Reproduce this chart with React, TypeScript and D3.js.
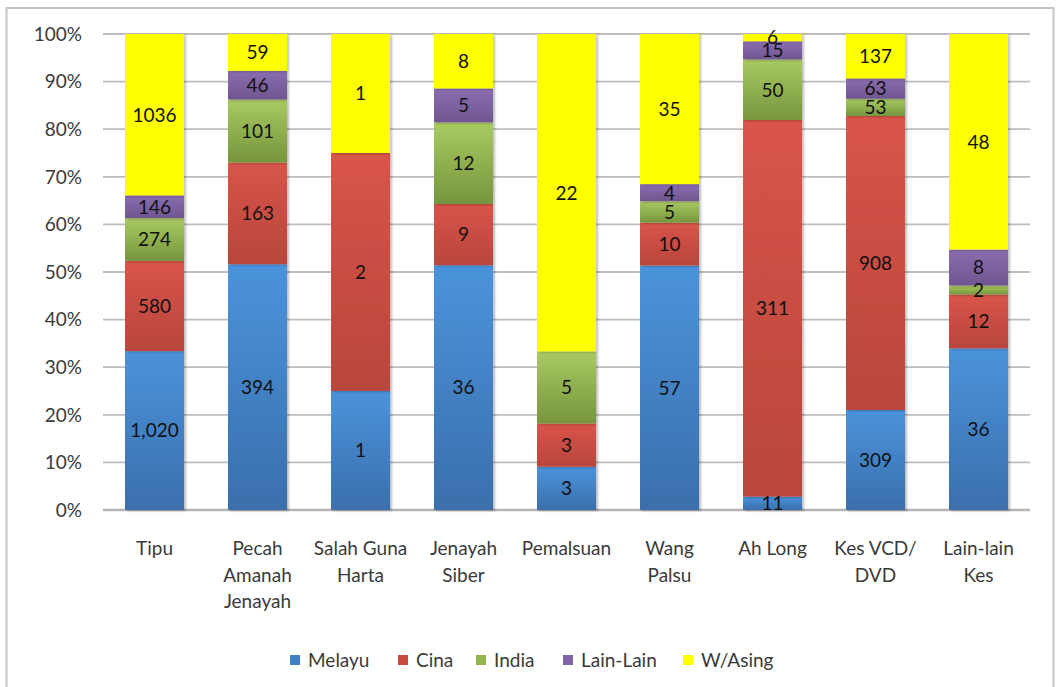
import React from "react";
import * as d3 from "d3";

const categories = [
  ["Tipu"],
  ["Pecah", "Amanah", "Jenayah"],
  ["Salah Guna", "Harta"],
  ["Jenayah", "Siber"],
  ["Pemalsuan"],
  ["Wang", "Palsu"],
  ["Ah Long"],
  ["Kes VCD/", "DVD"],
  ["Lain-lain", "Kes"],
];
const seriesNames = ["Melayu", "Cina", "India", "Lain-Lain", "W/Asing"];
const melayu = [1020, 394, 1, 36, 3, 57, 11, 309, 36];
const cina = [580, 163, 2, 9, 3, 10, 311, 908, 12];
const india = [274, 101, 0, 12, 5, 5, 50, 53, 2];
const lainLain = [146, 46, 0, 5, 0, 4, 15, 63, 8];
const wAsing = [1036, 59, 1, 8, 22, 35, 6, 137, 48];
const yTicks = [0, 0.1, 0.2, 0.3, 0.4, 0.5, 0.6, 0.7, 0.8, 0.9, 1];

const seriesValues = [melayu, cina, india, lainLain, wAsing];
const colorsTop = ["#4b93dc", "#d9544a", "#a9ca62", "#8a6db0", "#ffff00"];
const colorsBottom = ["#3a6fab", "#b8463c", "#77953d", "#6f5690", "#ffff00"];
const legendColors = ["#3f7fc4", "#cc4b40", "#93b552", "#7f63a3", "#ffff00"];

const W = 1056;
const H = 687;
const left = 103;
const right = 1030;
const top = 34;
const bottom = 510;
const FONT = "Lato, 'Open Sans', sans-serif";

export default function App() {
  const keys = categories.map((_, i) => String(i));
  const x = d3.scaleBand<string>().domain(keys).range([left, right]).paddingInner(0.427).paddingOuter(0.2135);
  const y = d3.scaleLinear().domain([0, 1]).range([bottom, top]);
  const rows = categories.map((_, i) => {
    const total = d3.sum(seriesValues, (s) => s[i]);
    const r: any = { idx: i };
    seriesNames.forEach((n, j) => (r[n] = seriesValues[j][i] / total));
    return r;
  });
  const stack = d3.stack<any>().keys(seriesNames)(rows);
  const fmtComma = d3.format(",");

  const legendX = [290, 398, 476, 563, 683];

  return (
    <svg width={W} height={H} style={{ position: "absolute", left: 0, top: 0 }} fontFamily={FONT}>
      <defs>
        {seriesNames.map((n, j) => (
          <linearGradient key={n} id={`g${j}`} x1="0" y1="0" x2="0" y2="1">
            <stop offset="0" stopColor={colorsTop[j]} />
            <stop offset="1" stopColor={colorsBottom[j]} />
          </linearGradient>
        ))}
        <filter id="sh" x="-10%" y="-10%" width="130%" height="130%">
          <feDropShadow dx="2" dy="1" stdDeviation="1" floodColor="#000" floodOpacity="0.25" />
        </filter>
      </defs>
      <rect x={0} y={0} width={W} height={H} fill="#fff" />
      <rect x={6.5} y={8} width={1047} height={700} fill="none" stroke="#c4c4c4" strokeWidth={2} />
      {yTicks.map((t) => (
        <g key={t}>
          <line x1={left} x2={right} y1={y(t)} y2={y(t)} stroke={t === 0 ? "#b5b5b5" : "#bdbdbd"} strokeWidth={t === 0 ? 2.5 : 1.8} />
          <text x={82} y={y(t)} dy="0.36em" textAnchor="end" fontSize={19} fill="#3a3a3a">
            {d3.format(".0%")(t)}
          </text>
        </g>
      ))}
      {stack.map((layer, j) => (
        <g key={layer.key}>
          {layer.map((d, i) => {
            const h = y(d[0]) - y(d[1]);
            if (h <= 0) return null;
            return (
              <rect key={i} x={x(String(i))} y={y(d[1])} width={x.bandwidth()} height={h} fill={`url(#g${j})`} filter="url(#sh)" />
            );
          })}
        </g>
      ))}
      {stack.map((layer, j) => (
        <g key={"l" + layer.key}>
          {layer.map((d, i) => {
            const v = seriesValues[j][i];
            if (!v) return null;
            const cy = (y(d[0]) + y(d[1])) / 2;
            return (
              <text key={i} x={x(String(i))! + x.bandwidth() / 2} y={cy} dy="0.36em" textAnchor="middle" fontSize={19} fill="#111">
                {j === 0 ? fmtComma(v) : String(v)}
              </text>
            );
          })}
        </g>
      ))}
      {categories.map((lines, i) => (
        <text key={i} x={x(String(i))! + x.bandwidth() / 2} y={555} textAnchor="middle" fontSize={19} fill="#3a3a3a">
          {lines.map((l, k) => (
            <tspan key={k} x={x(String(i))! + x.bandwidth() / 2} dy={k === 0 ? 0 : 26.5}>
              {l}
            </tspan>
          ))}
        </text>
      ))}
      {seriesNames.map((n, j) => (
        <g key={"lg" + n}>
          <rect x={legendX[j]} y={655} width={10} height={10} fill={legendColors[j]} />
          <text x={legendX[j] + 18} y={660} dy="0.36em" fontSize={19} fill="#3a3a3a">
            {n}
          </text>
        </g>
      ))}
    </svg>
  );
}
